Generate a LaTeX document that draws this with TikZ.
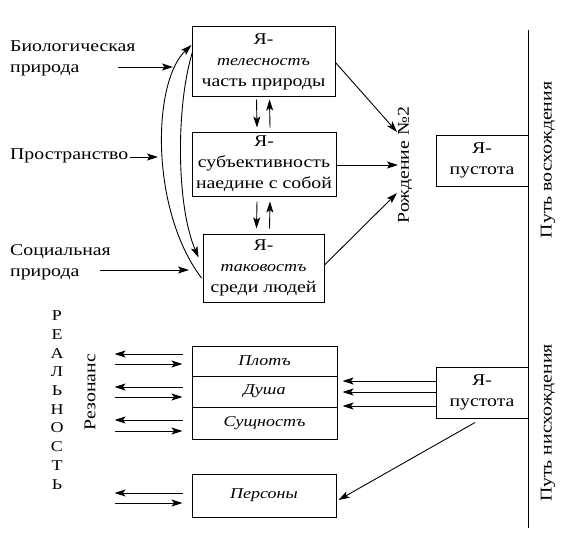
\documentclass[tikz,border=0pt]{standalone}
\usepackage{fontspec}
\setmainfont{Liberation Serif}[FakeStretch=1.2]
\usetikzlibrary{arrows.meta,calc}
\newcommand\mainfs{\fontsize{16.5}{21}\selectfont}
\newcommand\itfs{\fontsize{15}{21}\selectfont\itshape}
\newcommand\letfs{\fontsize{15}{18.7}\selectfont}
\begin{document}
\begin{tikzpicture}[x=1pt,y=-1pt,
  box/.style={draw,line width=1pt,inner sep=0pt,align=center,font=\mainfs},
  lbl/.style={inner sep=0pt,align=left,font=\mainfs,anchor=west},
  vlbl/.style={inner sep=0pt,font=\mainfs,rotate=90},
  arr/.style={-{Stealth[length=11pt,width=7pt,inset=2.5pt]},line width=0.9pt},
  ln/.style={line width=1pt}]
\useasboundingbox (0,0) rectangle (567,551);

% upper boxes
\node[box,minimum width=143pt,minimum height=69pt] (b1) at (263.5,61.5) {Я-\\{\itfs телесностъ}\\часть природы};
\node[box,minimum width=144pt,minimum height=64pt] (b2) at (264,164) {Я-\\субъективность\\наедине с собой};
\node[box,minimum width=121pt,minimum height=68pt] (b3) at (263.5,268) {Я-\\{\itfs таковостъ}\\среди людей};
\node[box,minimum width=92pt,minimum height=51pt] (p1) at (482,160.5) {Я-\\пустота};

% lower boxes
\node[box,minimum width=92pt,minimum height=51pt] (p2) at (482,392.5) {Я-\\пустота};
\node[box,minimum width=145pt,minimum height=30pt,font=\itfs] (s1) at (264.5,361) {Плотъ};
\node[box,minimum width=145pt,minimum height=31pt,font=\itfs] (s2) at (264.5,391.5) {Душа};
\node[box,minimum width=145pt,minimum height=32pt,font=\itfs] (s3) at (264.5,423) {Сущностъ};
\draw[line width=1.8pt] (s1.south west) -- (s1.south east);
\node[box,minimum width=144pt,minimum height=43pt,font=\itfs] (pe) at (264,495.5) {Персоны};

% labels
\node[lbl] (bio) at (10,58) {Биологическая\\природа};
\node[lbl] (pro) at (10,156) {Пространство};
\node[lbl] (soc) at (10,262) {Социальная\\природа};
\node[vlbl] (rozh) at (405,165) {Рождение №2};
\node[vlbl] (up) at (548,160) {Путь восхождения};
\node[vlbl] (down) at (548,423) {Путь нисхождения};
\node[vlbl] (rez) at (90,392) {Резонанс};
\node[inner sep=0pt,align=center,font=\letfs] (real) at (57,400) {Р\\Е\\А\\Л\\Ь\\Н\\О\\С\\Т\\Ь};

% vertical line
\coordinate (ltop) at (528,30);
\coordinate (lbot) at (528,528);
\draw[ln] (ltop) -- (lbot);

% label arrows
\coordinate (bioE) at (173,67);
\coordinate (proE) at (158,157);
\coordinate (socE) at (189,270);
\draw[arr] (118,67) -- (bioE);
\draw[arr] (pro.east) ++(1,1) -- (proE);
\draw[arr] (100,270) -- (socE);

% arrows between upper boxes
\draw[arr] ($(b1.south)+(-7,3)$) -- ($(b2.north)+(-7,-4)$);
\draw[arr] ($(b2.north)+(6,-4)$) -- ($(b1.south)+(6,3)$);
\draw[arr] ($(b2.south)+(-7,5)$) -- ($(b3.north)+(-7,-5)$);
\draw[arr] ($(b3.north)+(6,-5)$) -- ($(b2.south)+(6,5)$);

% curved arrows
\draw[arr] ($(b3.west)+(-1,10)$) .. controls (150,210) and (152,82) .. ($(b1.west)+(0,-16.5)$);
\draw[arr] ($(b1.west)+(1,-9.5)$) .. controls (176,105) and (176,205) .. ($(b3.north west)+(-4,24)$);

% arrows to Рождение №2
\coordinate (r1) at (397,132);
\coordinate (r2) at (398,165);
\coordinate (r3) at (397,193);
\draw[arr] ($(b1.east)+(0,1)$) -- (r1);
\draw[arr] ($(b2.east)+(0,1)$) -- (r2);
\draw[arr] ($(b3.east)+(0,-3)$) -- (r3);

% arrows from lower Я-пустота
\draw[arr] ($(p2.west)+(0,-11.5)$) -- ($(s2.east)+(5,-10.5)$);
\draw[arr] ($(p2.west)+(0,-0.5)$) -- ($(s2.east)+(5,0.5)$);
\draw[arr] ($(p2.west)+(0,13.5)$) -- ($(s2.east)+(5,14.5)$);
\draw[arr] ($(p2.south)+(-7,4)$) -- ($(pe.east)+(2,4.5)$);

% resonance arrows
\foreach \n/\ya/\yb in {s1/-7/3, s2/-4.5/5.5, s3/-3/8, pe/-2.5/7.5}{
  \draw[arr] ($(\n.west)+(-9,\ya)$) -- ($(\n.west)+(-77,\ya)$);
  \draw[arr] ($(\n.west)+(-77,\yb)$) -- ($(\n.west)+(-9,\yb)$);
}
\end{tikzpicture}
\end{document}
